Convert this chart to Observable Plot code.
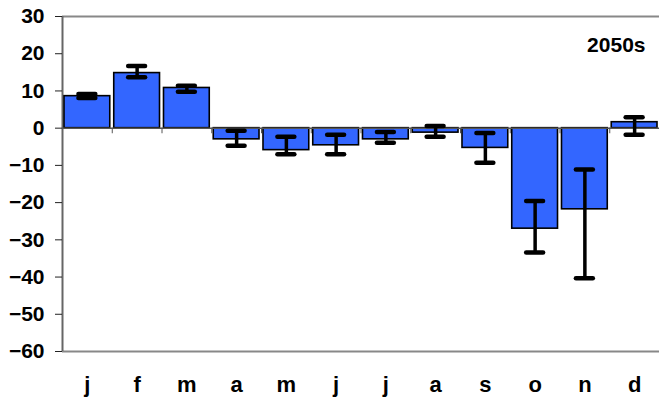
<!DOCTYPE html>
<html>
<head>
<meta charset="utf-8">
<script src="https://cdn.jsdelivr.net/npm/d3@7"></script>
<script src="https://cdn.jsdelivr.net/npm/@observablehq/plot@0.6"></script>
<style>
  html, body { margin: 0; padding: 0; background: #fff; }
  svg { display: block; }
</style>
</head>
<body>
<div id="chart"></div>
<script>
const months = ["j","f","m","a","m","j","j","a","s","o","n","d"];
const values = [8.6, 14.8, 10.8, -3.0, -5.9, -4.6, -3.0, -1.2, -5.3, -27.0, -21.8, 1.6];
const errLow = [8.1, 13.7, 9.8, -4.7, -7.0, -7.0, -3.9, -2.3, -9.3, -33.4, -40.3, -1.8];
const errHigh = [9.2, 16.7, 11.4, -0.7, -2.3, -1.8, -1.0, 0.6, -1.3, -19.6, -11.1, 2.9];
const yTicks = [-60, -50, -40, -30, -20, -10, 0, 10, 20, 30];
const periodLabel = "2050s";

const data = months.map((m, i) => ({i, m, v: values[i], lo: errLow[i], hi: errHigh[i]}));
const bounds = months.slice(1).map((m, i) => i + 0.5);
const halfBar = 0.46, halfCap = 0.17;
const font = "'Liberation Sans', Arial, Helvetica, sans-serif";

const chart = Plot.plot({
  width: 659,
  height: 401,
  marginLeft: 62,
  marginRight: 0,
  marginTop: 16,
  marginBottom: 50,
  style: {fontFamily: font, color: "#000", background: "#fff"},
  x: {type: "linear", domain: [-0.5, 11.5]},
  y: {domain: [-60, 30]},
  marks: [
    Plot.ruleY([30, -60], {stroke: "#888", strokeWidth: 2}),
    Plot.ruleX([-0.5], {stroke: "#666", strokeWidth: 2}),
    Plot.rect(data, {x1: d => d.i - halfBar, x2: d => d.i + halfBar, y1: 0, y2: "v", fill: "#3366FF", stroke: "#000", strokeWidth: 1.6}),
    Plot.ruleY([0], {stroke: "#555", strokeWidth: 1.5}),
    Plot.ruleX(bounds, {x: d => d, y1: 0, y2: -1.5, stroke: "#555", strokeWidth: 1}),
    Plot.ruleX(data, {x: "i", y1: "lo", y2: "hi", stroke: "#000", strokeWidth: 3.5}),
    Plot.ruleY(data, {y: "lo", x1: d => d.i - halfCap, x2: d => d.i + halfCap, stroke: "#000", strokeWidth: 4.5, strokeLinecap: "round"}),
    Plot.ruleY(data, {y: "hi", x1: d => d.i - halfCap, x2: d => d.i + halfCap, stroke: "#000", strokeWidth: 4.5, strokeLinecap: "round"}),
    Plot.axisY({ticks: yTicks, tickSize: 7, tickPadding: 11, fontSize: 21, fontWeight: "bold", label: null, stroke: "#222"}),
    Plot.axisX({ticks: months.map((m, i) => i), tickFormat: i => months[i], tickSize: 0, tickPadding: 25, fontSize: 22, fontWeight: "bold", label: null}),
    Plot.text([periodLabel], {frameAnchor: "top-right", dx: -14, dy: 29, textAnchor: "end", lineAnchor: "middle", fontSize: 21, fontWeight: "bold"})
  ]
});
document.getElementById("chart").appendChild(chart);
</script>
</body>
</html>
